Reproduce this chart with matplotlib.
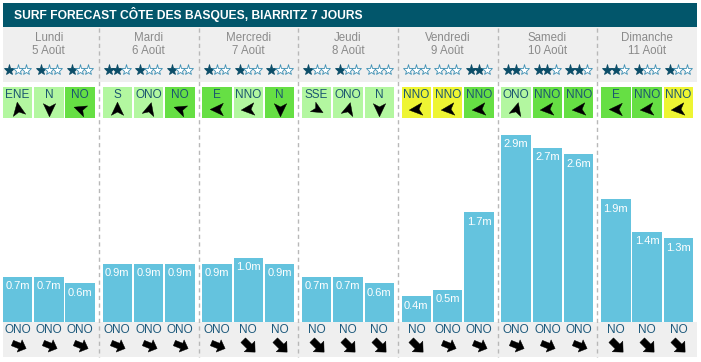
import numpy as np
import matplotlib
matplotlib.use("Agg")
import matplotlib.pyplot as plt
from matplotlib.patches import Rectangle
from matplotlib.path import Path

plt.rcParams['font.family'] = ['Liberation Sans', 'DejaVu Sans']

# ---------------- data ----------------
title = "SURF FORECAST CÔTE DES BASQUES, BIARRITZ 7 JOURS"
days = ["Lundi", "Mardi", "Mercredi", "Jeudi", "Vendredi", "Samedi", "Dimanche"]
dates = ["5 Août", "6 Août", "7 Août", "8 Août", "9 Août", "10 Août", "11 Août"]
stars = [[1, 1, 1], [2, 1, 1], [1, 1, 1], [1, 1, 0], [0, 0, 2], [2, 2, 2], [2, 1, 1]]
wind_dir = [["ENE", "N", "NO"], ["S", "ONO", "NO"], ["E", "NNO", "N"],
            ["SSE", "ONO", "N"], ["NNO", "NNO", "NNO"], ["ONO", "NNO", "NNO"],
            ["E", "NNO", "NNO"]]
wind_level = [[0, 0, 1], [0, 0, 1], [1, 0, 1], [0, 0, 0], [2, 2, 1], [0, 1, 1], [1, 1, 2]]
wave_h = [[0.7, 0.7, 0.6], [0.9, 0.9, 0.9], [0.9, 1.0, 0.9], [0.7, 0.7, 0.6],
          [0.4, 0.5, 1.7], [2.9, 2.7, 2.6], [1.9, 1.4, 1.3]]
swell_dir = [["ONO", "ONO", "ONO"], ["ONO", "ONO", "ONO"], ["ONO", "NO", "NO"],
             ["NO", "NO", "NO"], ["NO", "ONO", "ONO"], ["ONO", "ONO", "ONO"],
             ["NO", "NO", "NO"]]

# ---------------- styles ----------------
W, H = 701, 362
TEAL = "#02566b"
GRAY_BG = "#efefef"
DAY_TXT = "#8a8a8a"
STAR_FILL = "#0b4d68"
STAR_EDGE = "#3d8fb3"
WIND_COLORS = ["#b3f7a0", "#66df44", "#eef533"]
WIND_TXT = "#1b5670"
BAR_C = "#64c3de"
SWELL_TXT = "#1e5a7c"
SEP_C = "#b8b8b8"

# visual arrow tip angles (deg, 90 = up)
wind_arrow_angle = {"N": 270, "S": 90, "E": 180, "ENE": 100, "ONO": 75,
                    "NO": 160, "NNO": 185, "SSE": 330}
swell_arrow_angle = {"ONO": -22, "NO": -45}

DAY_PITCH = 99.7
SLOT_PITCH = 31.3
SLOT_W = 29.5
X0 = 2.8
BASE_Y = 322
PX_PER_M = 64.5


def slot_center(d, s):
    return X0 + d * DAY_PITCH + s * SLOT_PITCH + SLOT_W / 2


def rot(verts, ang):
    a = np.deg2rad(ang)
    R = np.array([[np.cos(a), -np.sin(a)], [np.sin(a), np.cos(a)]])
    return np.asarray(verts) @ R.T


nav_arrow = [(1.0, 0.0), (-0.8, 0.85), (-0.35, 0.0), (-0.8, -0.85), (1.0, 0.0)]
block_arrow = [(1.0, 0.0), (0.15, 0.8), (0.15, 0.35), (-0.8, 0.35), (-0.8, -0.35),
               (0.15, -0.35), (0.15, -0.8), (1.0, 0.0)]


def marker_path(base, ang):
    v = rot(base, ang)
    codes = [Path.MOVETO] + [Path.LINETO] * (len(v) - 2) + [Path.CLOSEPOLY]
    return Path(v, codes)


fig = plt.figure(figsize=(W / 100, H / 100), dpi=100)
ax = fig.add_axes([0, 0, 1, 1])
ax.set_xlim(0, W)
ax.set_ylim(0, H)
ax.axis("off")


def Y(y):  # pixel-from-top to axes coordinate
    return H - y


# title bar
ax.add_patch(Rectangle((3, Y(27)), 694, 24, color=TEAL, lw=0))
ax.text(14, Y(15), title, color="white", fontsize=8.7, fontweight="bold",
        ha="left", va="center")
# header gray
ax.add_patch(Rectangle((3, Y(82)), 694, 55, color=GRAY_BG, lw=0))
# bottom gray
ax.add_patch(Rectangle((3, Y(357)), 694, 35, color=GRAY_BG, lw=0))

# separators
for d in range(1, len(days)):
    xs = X0 + d * DAY_PITCH - 3.6
    ax.plot([xs, xs], [Y(28), Y(357)], color=SEP_C, lw=1, ls=(0, (3, 2.5)))

for d, day in enumerate(days):
    cx = slot_center(d, 1)
    ax.text(cx, Y(38), day, color=DAY_TXT, fontsize=8.3, ha="center", va="center")
    ax.text(cx, Y(50.5), dates[d], color=DAY_TXT, fontsize=8.3, ha="center", va="center")
    for s in range(3):
        sx = slot_center(d, s)
        # stars
        for k in range(3):
            filled = k < stars[d][s]
            ax.plot(sx + (k - 1) * 8.3, Y(70), marker="*", ms=8,
                    mfc=STAR_FILL if filled else "white",
                    mec=STAR_FILL if filled else STAR_EDGE, mew=0.6)
        # wind boxes
        left = sx - SLOT_W / 2
        ax.add_patch(Rectangle((left, Y(118)), SLOT_W, 31,
                               color=WIND_COLORS[wind_level[d][s]], lw=0))
        ax.text(sx, Y(95), wind_dir[d][s], color=WIND_TXT, fontsize=8.5,
                ha="center", va="center")
        ax.plot(sx, Y(108.5), marker=marker_path(nav_arrow, wind_arrow_angle[wind_dir[d][s]]),
                ms=10.5, color="black", mec="black", mew=0.3)
        # swell
        ax.text(sx, Y(330), swell_dir[d][s], color=SWELL_TXT, fontsize=8.5,
                ha="center", va="center")
        ax.plot(sx, Y(345), marker=marker_path(block_arrow, swell_arrow_angle[swell_dir[d][s]]),
                ms=11, color="black", mec="black", mew=0.3)

# bars axes in metres
bax = fig.add_axes([0, (H - BASE_Y) / H, 1, (BASE_Y - 120) / H])
bax.set_xlim(0, W)
bax.set_ylim(0, (BASE_Y - 120) / PX_PER_M)
bax.axis("off")
bax.patch.set_alpha(0)
for d in range(len(days)):
    xs = [slot_center(d, s) for s in range(3)]
    bax.bar(xs, wave_h[d], width=SLOT_W, color=BAR_C, lw=0)
    for x, h in zip(xs, wave_h[d]):
        bax.annotate(f"{h:.1f}m", (x, h), xytext=(0, -6.8), textcoords="offset points",
                     ha="center", va="center", color="white", fontsize=8)

fig.savefig("out.png", dpi=100)
